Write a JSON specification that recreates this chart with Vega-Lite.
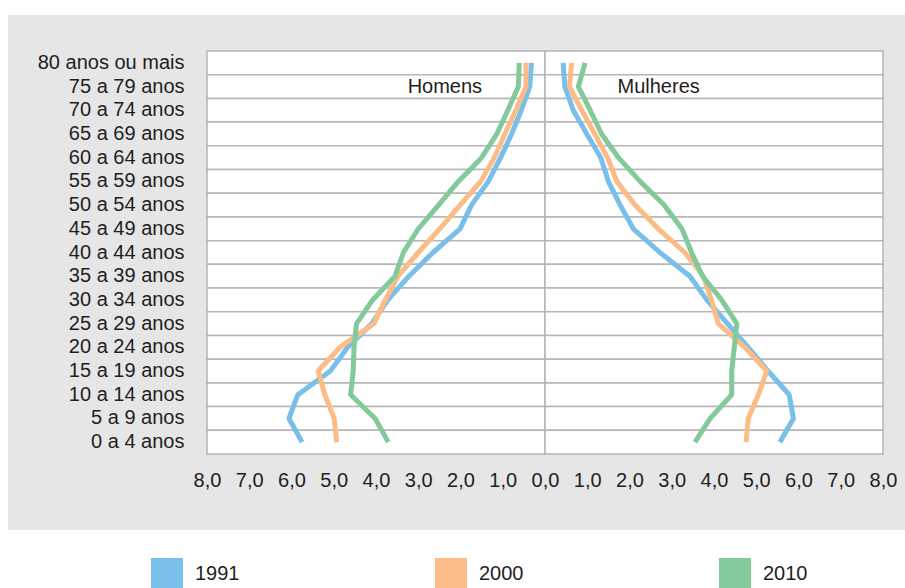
{
  "$schema": "https://vega.github.io/schema/vega-lite/v6.json",
  "width": 897,
  "height": 515,
  "autosize": {"type": "none"},
  "padding": {"left": 8, "top": 15, "right": 0, "bottom": 58},
  "background": "white",
  "config": {
    "view": {"fill": "#e6e6e6", "stroke": null},
    "font": "Liberation Sans",
    "text": {"font": "Liberation Sans"}
  },
  "datasets": {
    "ages": [
      {"age": "80 anos ou mais"}, {"age": "75 a 79 anos"}, {"age": "70 a 74 anos"}, {"age": "65 a 69 anos"},
      {"age": "60 a 64 anos"}, {"age": "55 a 59 anos"}, {"age": "50 a 54 anos"}, {"age": "45 a 49 anos"},
      {"age": "40 a 44 anos"}, {"age": "35 a 39 anos"}, {"age": "30 a 34 anos"}, {"age": "25 a 29 anos"},
      {"age": "20 a 24 anos"}, {"age": "15 a 19 anos"}, {"age": "10 a 14 anos"}, {"age": "5 a 9 anos"},
      {"age": "0 a 4 anos"}
    ],
    "labels": [
      {"label": "Homens", "side": -2.37},
      {"label": "Mulheres", "side": 2.69}
    ],
    "pop": [
      {"age": "80 anos ou mais", "sex": "Homens", "year": "1991", "v": -0.32},
      {"age": "75 a 79 anos", "sex": "Homens", "year": "1991", "v": -0.36},
      {"age": "70 a 74 anos", "sex": "Homens", "year": "1991", "v": -0.56},
      {"age": "65 a 69 anos", "sex": "Homens", "year": "1991", "v": -0.79},
      {"age": "60 a 64 anos", "sex": "Homens", "year": "1991", "v": -1.05},
      {"age": "55 a 59 anos", "sex": "Homens", "year": "1991", "v": -1.34},
      {"age": "50 a 54 anos", "sex": "Homens", "year": "1991", "v": -1.74},
      {"age": "45 a 49 anos", "sex": "Homens", "year": "1991", "v": -2.01},
      {"age": "40 a 44 anos", "sex": "Homens", "year": "1991", "v": -2.65},
      {"age": "35 a 39 anos", "sex": "Homens", "year": "1991", "v": -3.22},
      {"age": "30 a 34 anos", "sex": "Homens", "year": "1991", "v": -3.72},
      {"age": "25 a 29 anos", "sex": "Homens", "year": "1991", "v": -4.10},
      {"age": "20 a 24 anos", "sex": "Homens", "year": "1991", "v": -4.67},
      {"age": "15 a 19 anos", "sex": "Homens", "year": "1991", "v": -5.08},
      {"age": "10 a 14 anos", "sex": "Homens", "year": "1991", "v": -5.85},
      {"age": "5 a 9 anos", "sex": "Homens", "year": "1991", "v": -6.06},
      {"age": "0 a 4 anos", "sex": "Homens", "year": "1991", "v": -5.75},
      {"age": "80 anos ou mais", "sex": "Homens", "year": "2000", "v": -0.45},
      {"age": "75 a 79 anos", "sex": "Homens", "year": "2000", "v": -0.45},
      {"age": "70 a 74 anos", "sex": "Homens", "year": "2000", "v": -0.69},
      {"age": "65 a 69 anos", "sex": "Homens", "year": "2000", "v": -0.95},
      {"age": "60 a 64 anos", "sex": "Homens", "year": "2000", "v": -1.20},
      {"age": "55 a 59 anos", "sex": "Homens", "year": "2000", "v": -1.52},
      {"age": "50 a 54 anos", "sex": "Homens", "year": "2000", "v": -2.01},
      {"age": "45 a 49 anos", "sex": "Homens", "year": "2000", "v": -2.49},
      {"age": "40 a 44 anos", "sex": "Homens", "year": "2000", "v": -3.00},
      {"age": "35 a 39 anos", "sex": "Homens", "year": "2000", "v": -3.48},
      {"age": "30 a 34 anos", "sex": "Homens", "year": "2000", "v": -3.78},
      {"age": "25 a 29 anos", "sex": "Homens", "year": "2000", "v": -4.05},
      {"age": "20 a 24 anos", "sex": "Homens", "year": "2000", "v": -4.85},
      {"age": "15 a 19 anos", "sex": "Homens", "year": "2000", "v": -5.37},
      {"age": "10 a 14 anos", "sex": "Homens", "year": "2000", "v": -5.21},
      {"age": "5 a 9 anos", "sex": "Homens", "year": "2000", "v": -4.99},
      {"age": "0 a 4 anos", "sex": "Homens", "year": "2000", "v": -4.93},
      {"age": "80 anos ou mais", "sex": "Homens", "year": "2010", "v": -0.61},
      {"age": "75 a 79 anos", "sex": "Homens", "year": "2010", "v": -0.63},
      {"age": "70 a 74 anos", "sex": "Homens", "year": "2010", "v": -0.88},
      {"age": "65 a 69 anos", "sex": "Homens", "year": "2010", "v": -1.14},
      {"age": "60 a 64 anos", "sex": "Homens", "year": "2010", "v": -1.50},
      {"age": "55 a 59 anos", "sex": "Homens", "year": "2010", "v": -2.05},
      {"age": "50 a 54 anos", "sex": "Homens", "year": "2010", "v": -2.52},
      {"age": "45 a 49 anos", "sex": "Homens", "year": "2010", "v": -3.00},
      {"age": "40 a 44 anos", "sex": "Homens", "year": "2010", "v": -3.35},
      {"age": "35 a 39 anos", "sex": "Homens", "year": "2010", "v": -3.55},
      {"age": "30 a 34 anos", "sex": "Homens", "year": "2010", "v": -4.08},
      {"age": "25 a 29 anos", "sex": "Homens", "year": "2010", "v": -4.46},
      {"age": "20 a 24 anos", "sex": "Homens", "year": "2010", "v": -4.52},
      {"age": "15 a 19 anos", "sex": "Homens", "year": "2010", "v": -4.54},
      {"age": "10 a 14 anos", "sex": "Homens", "year": "2010", "v": -4.60},
      {"age": "5 a 9 anos", "sex": "Homens", "year": "2010", "v": -4.02},
      {"age": "0 a 4 anos", "sex": "Homens", "year": "2010", "v": -3.71},
      {"age": "80 anos ou mais", "sex": "Mulheres", "year": "1991", "v": 0.43},
      {"age": "75 a 79 anos", "sex": "Mulheres", "year": "1991", "v": 0.47},
      {"age": "70 a 74 anos", "sex": "Mulheres", "year": "1991", "v": 0.67},
      {"age": "65 a 69 anos", "sex": "Mulheres", "year": "1991", "v": 0.99},
      {"age": "60 a 64 anos", "sex": "Mulheres", "year": "1991", "v": 1.32},
      {"age": "55 a 59 anos", "sex": "Mulheres", "year": "1991", "v": 1.50},
      {"age": "50 a 54 anos", "sex": "Mulheres", "year": "1991", "v": 1.78},
      {"age": "45 a 49 anos", "sex": "Mulheres", "year": "1991", "v": 2.09},
      {"age": "40 a 44 anos", "sex": "Mulheres", "year": "1991", "v": 2.72},
      {"age": "35 a 39 anos", "sex": "Mulheres", "year": "1991", "v": 3.43},
      {"age": "30 a 34 anos", "sex": "Mulheres", "year": "1991", "v": 3.83},
      {"age": "25 a 29 anos", "sex": "Mulheres", "year": "1991", "v": 4.32},
      {"age": "20 a 24 anos", "sex": "Mulheres", "year": "1991", "v": 4.81},
      {"age": "15 a 19 anos", "sex": "Mulheres", "year": "1991", "v": 5.28},
      {"age": "10 a 14 anos", "sex": "Mulheres", "year": "1991", "v": 5.78},
      {"age": "5 a 9 anos", "sex": "Mulheres", "year": "1991", "v": 5.88},
      {"age": "0 a 4 anos", "sex": "Mulheres", "year": "1991", "v": 5.56},
      {"age": "80 anos ou mais", "sex": "Mulheres", "year": "2000", "v": 0.63},
      {"age": "75 a 79 anos", "sex": "Mulheres", "year": "2000", "v": 0.58},
      {"age": "70 a 74 anos", "sex": "Mulheres", "year": "2000", "v": 0.87},
      {"age": "65 a 69 anos", "sex": "Mulheres", "year": "2000", "v": 1.18},
      {"age": "60 a 64 anos", "sex": "Mulheres", "year": "2000", "v": 1.48},
      {"age": "55 a 59 anos", "sex": "Mulheres", "year": "2000", "v": 1.70},
      {"age": "50 a 54 anos", "sex": "Mulheres", "year": "2000", "v": 2.13},
      {"age": "45 a 49 anos", "sex": "Mulheres", "year": "2000", "v": 2.68},
      {"age": "40 a 44 anos", "sex": "Mulheres", "year": "2000", "v": 3.31},
      {"age": "35 a 39 anos", "sex": "Mulheres", "year": "2000", "v": 3.75},
      {"age": "30 a 34 anos", "sex": "Mulheres", "year": "2000", "v": 3.94},
      {"age": "25 a 29 anos", "sex": "Mulheres", "year": "2000", "v": 4.10},
      {"age": "20 a 24 anos", "sex": "Mulheres", "year": "2000", "v": 4.73},
      {"age": "15 a 19 anos", "sex": "Mulheres", "year": "2000", "v": 5.25},
      {"age": "10 a 14 anos", "sex": "Mulheres", "year": "2000", "v": 5.05},
      {"age": "5 a 9 anos", "sex": "Mulheres", "year": "2000", "v": 4.81},
      {"age": "0 a 4 anos", "sex": "Mulheres", "year": "2000", "v": 4.76},
      {"age": "80 anos ou mais", "sex": "Mulheres", "year": "2010", "v": 0.95},
      {"age": "75 a 79 anos", "sex": "Mulheres", "year": "2010", "v": 0.79},
      {"age": "70 a 74 anos", "sex": "Mulheres", "year": "2010", "v": 1.07},
      {"age": "65 a 69 anos", "sex": "Mulheres", "year": "2010", "v": 1.34},
      {"age": "60 a 64 anos", "sex": "Mulheres", "year": "2010", "v": 1.74},
      {"age": "55 a 59 anos", "sex": "Mulheres", "year": "2010", "v": 2.25},
      {"age": "50 a 54 anos", "sex": "Mulheres", "year": "2010", "v": 2.82},
      {"age": "45 a 49 anos", "sex": "Mulheres", "year": "2010", "v": 3.24},
      {"age": "40 a 44 anos", "sex": "Mulheres", "year": "2010", "v": 3.47},
      {"age": "35 a 39 anos", "sex": "Mulheres", "year": "2010", "v": 3.73},
      {"age": "30 a 34 anos", "sex": "Mulheres", "year": "2010", "v": 4.18},
      {"age": "25 a 29 anos", "sex": "Mulheres", "year": "2010", "v": 4.54},
      {"age": "20 a 24 anos", "sex": "Mulheres", "year": "2010", "v": 4.48},
      {"age": "15 a 19 anos", "sex": "Mulheres", "year": "2010", "v": 4.42},
      {"age": "10 a 14 anos", "sex": "Mulheres", "year": "2010", "v": 4.42},
      {"age": "5 a 9 anos", "sex": "Mulheres", "year": "2010", "v": 3.91},
      {"age": "0 a 4 anos", "sex": "Mulheres", "year": "2010", "v": 3.55}
    ]
  },
  "encoding": {
    "y": {
      "field": "age",
      "type": "nominal",
      "sort": ["80 anos ou mais", "75 a 79 anos", "70 a 74 anos", "65 a 69 anos", "60 a 64 anos", "55 a 59 anos", "50 a 54 anos", "45 a 49 anos", "40 a 44 anos", "35 a 39 anos", "30 a 34 anos", "25 a 29 anos", "20 a 24 anos", "15 a 19 anos", "10 a 14 anos", "5 a 9 anos", "0 a 4 anos"],
      "scale": {"type": "band", "paddingInner": 0, "paddingOuter": 0, "range": [36, 439]},
      "axis": {
        "title": null,
        "orient": "left",
        "offset": -178,
        "domain": false,
        "ticks": false,
        "tickSize": 0,
        "grid": false,
        "labelPadding": 2,
        "labelFontSize": 20,
        "labelColor": "#1e1e1e",
        "labelFont": "Liberation Sans",
        "labelLimit": 300,
        "zindex": 1
      }
    }
  },
  "layer": [
    {
      "data": {"name": "ages"},
      "mark": {"type": "rect", "fill": "white", "stroke": "#b5b5b5", "strokeWidth": 1.5},
      "encoding": {
        "x": {"datum": -8, "type": "quantitative"},
        "x2": {"datum": 0}
      }
    },
    {
      "data": {"name": "ages"},
      "mark": {"type": "rect", "fill": "white", "stroke": "#b5b5b5", "strokeWidth": 1.5},
      "encoding": {
        "x": {"datum": 0, "type": "quantitative"},
        "x2": {"datum": 8}
      }
    },
    {
      "data": {"name": "pop"},
      "mark": {"type": "line", "strokeWidth": 5, "strokeJoin": "round", "strokeCap": "butt"},
      "encoding": {
        "x": {
          "field": "v",
          "type": "quantitative",
          "scale": {"domain": [-12.71, 8.521], "nice": false, "zero": false},
          "axis": {
            "title": null,
            "orient": "bottom",
            "offset": -60,
            "values": [-8, -7, -6, -5, -4, -3, -2, -1, 0, 1, 2, 3, 4, 5, 6, 7, 8],
            "labelExpr": "replace(format(abs(datum.value), '.1f'), '.', ',')",
            "domain": false,
            "ticks": false,
            "tickSize": 0,
            "grid": false,
            "labelPadding": 0,
            "labelFontSize": 20,
            "labelColor": "#1e1e1e",
            "labelFont": "Liberation Sans",
            "labelFlush": false,
            "labelOverlap": false,
            "zindex": 1
          }
        },
        "color": {
          "field": "year",
          "type": "nominal",
          "scale": {"domain": ["1991", "2000", "2010"], "range": ["#78bfea", "#fbbc87", "#84c99c"]},
          "legend": {
            "orient": "none",
            "legendX": 143,
            "legendY": 543,
            "direction": "horizontal",
            "title": null,
            "symbolType": "square",
            "symbolSize": 1024,
            "symbolStrokeWidth": 0,
            "labelFontSize": 20,
            "labelFont": "Liberation Sans",
            "labelColor": "#1e1e1e",
            "labelOffset": 12,
            "columnPadding": 195,
            "encode": {
              "symbols": {
                "update": {
                  "fill": {"scale": "color", "field": "value"},
                  "fillOpacity": {"value": 1},
                  "strokeWidth": {"value": 0}
                }
              }
            }
          }
        },
        "detail": {"field": "sex"},
        "order": {"value": null}
      }
    },
    {
      "data": {"name": "labels"},
      "mark": {"type": "text", "fontSize": 20, "font": "Liberation Sans", "color": "#1e1e1e", "baseline": "middle", "align": "center"},
      "encoding": {
        "x": {"field": "side", "type": "quantitative"},
        "y": {"datum": "75 a 79 anos", "bandPosition": 0.5},
        "text": {"field": "label"}
      }
    }
  ]
}
